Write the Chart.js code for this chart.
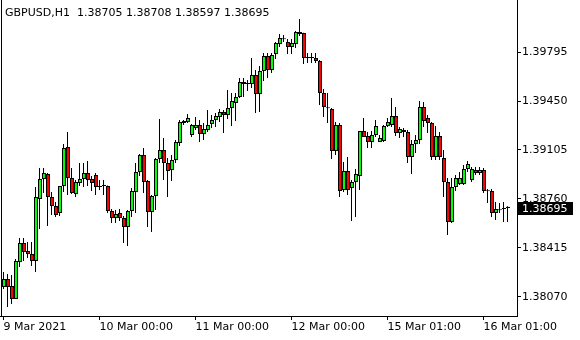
<!DOCTYPE html>
<html>
<head>
<meta charset="utf-8">
<script src="https://cdn.jsdelivr.net/npm/chart.js@4.4.1/dist/chart.umd.min.js"></script>
<style>
  html, body { margin: 0; padding: 0; background: #fff; }
  canvas { display: block; }
</style>
</head>
<body>
<canvas id="chart" width="580" height="340"></canvas>
<script>
// GBPUSD H1 bars, 9 Mar 2021 00:00 .. 16 Mar 06:00
const symbolTitle = 'GBPUSD,H1  1.38705 1.38708 1.38597 1.38695';

const opens = [
    1.38138, 1.38195, 1.38145, 1.38054, 1.38315, 1.38449, 1.38392, 1.38371, 1.38322, 1.38759,
    1.38900, 1.38935, 1.38773, 1.38710, 1.38660, 1.38851, 1.39126, 1.38907, 1.38794, 1.38872,
    1.38900, 1.38942, 1.38900, 1.38928, 1.38851, 1.38851, 1.38851, 1.38674, 1.38625, 1.38660,
    1.38625, 1.38562, 1.38674, 1.38808, 1.38950, 1.39069, 1.38886, 1.38667, 1.38780, 1.39041,
    1.39105, 1.39013, 1.38964, 1.39034, 1.39154, 1.39309, 1.39302, 1.39211, 1.39260, 1.39281,
    1.39218, 1.39246, 1.39288, 1.39316, 1.39338, 1.39373, 1.39352, 1.39401, 1.39436, 1.39479,
    1.39584, 1.39570, 1.39570, 1.39634, 1.39500, 1.39662, 1.39768, 1.39669, 1.39782, 1.39853,
    1.39888, 1.39867, 1.39831, 1.39853, 1.39937, 1.39930, 1.39754, 1.39754, 1.39754, 1.39733,
    1.39507, 1.39401, 1.39394, 1.39098, 1.39281, 1.38823, 1.38957, 1.38837, 1.38879, 1.38921,
    1.39239, 1.39204, 1.39161, 1.39211, 1.39161, 1.39168, 1.39274, 1.39281, 1.39345, 1.39225,
    1.39232, 1.39232, 1.39055, 1.39147, 1.39175, 1.39408, 1.39331, 1.39295, 1.39055, 1.39204,
    1.39048, 1.38879, 1.38597, 1.38844, 1.38865, 1.38865, 1.38971, 1.38893, 1.38964, 1.38942,
    1.38964, 1.38815, 1.38815, 1.38660, 1.38681, 1.38689, 1.38705
];
const highs = [
    1.38244, 1.38230, 1.38223, 1.38336, 1.38484, 1.38484, 1.38456, 1.38456, 1.38844, 1.38978,
    1.38978, 1.38942, 1.38808, 1.38738, 1.38851, 1.39147, 1.39232, 1.38978, 1.38893, 1.39013,
    1.39013, 1.39027, 1.38921, 1.38942, 1.38893, 1.38893, 1.38855, 1.38689, 1.38681, 1.38689,
    1.38639, 1.38681, 1.38837, 1.39013, 1.39077, 1.39119, 1.38893, 1.38787, 1.39048, 1.39323,
    1.39189, 1.39048, 1.39069, 1.39175, 1.39316, 1.39316, 1.39359, 1.39288, 1.39338, 1.39316,
    1.39295, 1.39387, 1.39352, 1.39366, 1.39394, 1.39387, 1.39528, 1.39507, 1.39507, 1.39613,
    1.39613, 1.39599, 1.39754, 1.39669, 1.39697, 1.39789, 1.39789, 1.39789, 1.39867, 1.39923,
    1.39916, 1.39888, 1.39888, 1.39944, 1.40029, 1.39932, 1.39789, 1.39789, 1.39789, 1.39740,
    1.39535, 1.39507, 1.39401, 1.39302, 1.39295, 1.39020, 1.39055, 1.38893, 1.38971, 1.39239,
    1.39331, 1.39232, 1.39239, 1.39316, 1.39211, 1.39281, 1.39331, 1.39472, 1.39408, 1.39267,
    1.39260, 1.39246, 1.39175, 1.39211, 1.39450, 1.39443, 1.39352, 1.39302, 1.39274, 1.39232,
    1.39105, 1.38907, 1.38907, 1.38928, 1.38950, 1.38999, 1.39027, 1.38985, 1.38985, 1.38985,
    1.38978, 1.38830, 1.38830, 1.38738, 1.38731, 1.38738, 1.38708
];
const lows = [
    1.38124, 1.37997, 1.38018, 1.38054, 1.38279, 1.38322, 1.38343, 1.38286, 1.38244, 1.38547,
    1.38801, 1.38569, 1.38646, 1.38632, 1.38639, 1.38808, 1.38787, 1.38794, 1.38773, 1.38851,
    1.38844, 1.38851, 1.38815, 1.38787, 1.38823, 1.38787, 1.38660, 1.38590, 1.38590, 1.38604,
    1.38449, 1.38427, 1.38632, 1.38660, 1.38921, 1.38801, 1.38562, 1.38526, 1.38681, 1.39013,
    1.38893, 1.38773, 1.38886, 1.39013, 1.39133, 1.39281, 1.39295, 1.39196, 1.39246, 1.39161,
    1.39175, 1.39232, 1.39260, 1.39267, 1.39302, 1.39225, 1.39323, 1.39274, 1.39309, 1.39472,
    1.39479, 1.39521, 1.39542, 1.39366, 1.39373, 1.39592, 1.39613, 1.39648, 1.39747, 1.39831,
    1.39867, 1.39782, 1.39782, 1.39824, 1.39909, 1.39711, 1.39719, 1.39719, 1.39719, 1.39422,
    1.39338, 1.39295, 1.39041, 1.39069, 1.38773, 1.38808, 1.38787, 1.38604, 1.38632, 1.38823,
    1.39196, 1.39119, 1.39119, 1.39196, 1.39161, 1.39161, 1.39267, 1.39267, 1.39204, 1.39189,
    1.39196, 1.39013, 1.38935, 1.39084, 1.39147, 1.39267, 1.39225, 1.39034, 1.39034, 1.39034,
    1.38773, 1.38505, 1.38590, 1.38815, 1.38858, 1.38858, 1.38950, 1.38879, 1.38928, 1.38928,
    1.38801, 1.38731, 1.38632, 1.38611, 1.38660, 1.38597, 1.38597
];
const closes = [
    1.38195, 1.38138, 1.38054, 1.38322, 1.38449, 1.38385, 1.38371, 1.38322, 1.38773, 1.38900,
    1.38942, 1.38773, 1.38710, 1.38646, 1.38851, 1.39119, 1.38907, 1.38801, 1.38879, 1.38900,
    1.38942, 1.38893, 1.38872, 1.38844, 1.38844, 1.38854, 1.38674, 1.38625, 1.38653, 1.38625,
    1.38562, 1.38674, 1.38815, 1.38950, 1.39069, 1.38879, 1.38667, 1.38780, 1.39041, 1.39105,
    1.39013, 1.38957, 1.39034, 1.39161, 1.39302, 1.39295, 1.39331, 1.39281, 1.39281, 1.39218,
    1.39253, 1.39281, 1.39316, 1.39345, 1.39373, 1.39352, 1.39401, 1.39450, 1.39479, 1.39584,
    1.39570, 1.39571, 1.39634, 1.39500, 1.39662, 1.39768, 1.39669, 1.39775, 1.39860, 1.39895,
    1.39887, 1.39831, 1.39860, 1.39937, 1.39923, 1.39754, 1.39755, 1.39753, 1.39733, 1.39507,
    1.39408, 1.39400, 1.39098, 1.39281, 1.38815, 1.38957, 1.38823, 1.38879, 1.38935, 1.39239,
    1.39196, 1.39161, 1.39211, 1.39274, 1.39189, 1.39274, 1.39302, 1.39345, 1.39225, 1.39253,
    1.39246, 1.39055, 1.39147, 1.39175, 1.39408, 1.39309, 1.39295, 1.39055, 1.39204, 1.39055,
    1.38879, 1.38597, 1.38844, 1.38907, 1.38907, 1.38971, 1.39006, 1.38971, 1.38942, 1.38964,
    1.38815, 1.38814, 1.38660, 1.38689, 1.38680, 1.38696, 1.38695
];

// time axis labels sit on these bar indices
const timeTickIdx = [0, 24, 48, 72, 96, 120];
const timeTickText = ['9 Mar 2021', '10 Mar 00:00', '11 Mar 00:00', '12 Mar 00:00', '15 Mar 01:00', '16 Mar 01:00'];
const priceTicks = [1.38070, 1.38415, 1.38760, 1.39105, 1.39450, 1.39795];

const BULL = '#00ff00';
const BEAR = '#ff0000';

Chart.defaults.font.family = "'DejaVu Sans', sans-serif";
Chart.defaults.font.size = 11;
Chart.defaults.color = '#000';

const bodies = opens.map((o, i) => ({ x: i, y: [o, closes[i]] }));
const wicks = opens.map((o, i) => ({ x: i, y: [lows[i], highs[i]] }));

// frame, title and the current price marker
const mtPlugin = {
    id: 'mtFrame',
    afterDraw(chart) {
        const ctx = chart.ctx;
        const area = chart.chartArea;
        const yScale = chart.scales.y;
        ctx.save();
        ctx.strokeStyle = '#000';
        ctx.lineWidth = 1;
        ctx.beginPath();
        ctx.moveTo(1.5, 0);
        ctx.lineTo(1.5, area.bottom);
        ctx.moveTo(0, area.bottom + 0.5);
        ctx.lineTo(area.left, area.bottom + 0.5);
        ctx.stroke();

        ctx.font = "11px 'DejaVu Sans'";
        ctx.fillStyle = '#000';
        ctx.textBaseline = 'alphabetic';
        ctx.fillText(symbolTitle, 5, 16);

        const last = closes[closes.length - 1];
        const py = Math.round(yScale.getPixelForValue(last));
        ctx.fillStyle = '#000';
        ctx.fillRect(area.right, py - 6, 56, 13);
        ctx.fillStyle = '#fff';
        ctx.textBaseline = 'middle';
        ctx.fillText(last.toFixed(5), area.right + 5, py + 1);
        ctx.restore();
    }
};

new Chart(document.getElementById('chart'), {
    type: 'bar',
    data: {
        datasets: [
            {
                // bodies sit on a hidden twin axis shifted half a pixel so a 4px body lands on whole pixels
                label: 'body',
                data: bodies,
                xAxisID: 'xb',
                backgroundColor: bodies.map(b => b.y[1] >= b.y[0] ? BULL : BEAR),
                borderColor: '#000',
                borderWidth: 1,
                borderSkipped: false,
                categoryPercentage: 1,
                barPercentage: 1,
                minBarLength: 1,
                inflateAmount: 0,
                grouped: false
            },
            {
                label: 'wick',
                data: wicks,
                xAxisID: 'x',
                backgroundColor: '#000',
                borderWidth: 0,
                categoryPercentage: 1,
                barPercentage: 0.25,
                inflateAmount: 0,
                grouped: false
            }
        ]
    },
    options: {
        responsive: false,
        animation: false,
        events: [],
        layout: { padding: { left: 2, top: 0, right: 0, bottom: 0 } },
        plugins: {
            legend: { display: false },
            tooltip: { enabled: false }
        },
        scales: {
            x: {
                type: 'linear',
                offset: false,
                min: -0.375,
                max: 128.375,
                afterBuildTicks: scale => {
                    scale.ticks = timeTickIdx.map(v => ({ value: v }));
                },
                afterFit: scale => {
                    scale.height = 24;
                    scale.paddingLeft = 0;
                    scale.paddingRight = 0;
                },
                ticks: {
                    autoSkip: false,
                    maxRotation: 0,
                    align: 'start',
                    padding: 1,
                    color: '#000',
                    callback: v => timeTickText[timeTickIdx.indexOf(v)]
                },
                grid: {
                    offset: false,
                    drawOnChartArea: false,
                    drawTicks: true,
                    tickLength: 4,
                    color: '#000'
                },
                border: { display: true, color: '#000' }
            },
            xb: {
                type: 'linear',
                axis: 'x',
                display: false,
                offset: false,
                min: -0.5,
                max: 128.25
            },
            y: {
                type: 'linear',
                position: 'right',
                min: 1.37934,
                max: 1.40163,
                afterBuildTicks: scale => {
                    scale.ticks = priceTicks.map(v => ({ value: v }));
                },
                afterFit: scale => {
                    scale.width = 63;
                    scale.paddingTop = 0;
                    scale.paddingBottom = 0;
                },
                ticks: {
                    padding: 1,
                    color: '#000',
                    callback: v => v.toFixed(5)
                },
                grid: {
                    drawOnChartArea: false,
                    drawTicks: true,
                    tickLength: 4,
                    color: '#000'
                },
                border: { display: true, color: '#000' }
            }
        }
    },
    plugins: [mtPlugin]
});
</script>
</body>
</html>
